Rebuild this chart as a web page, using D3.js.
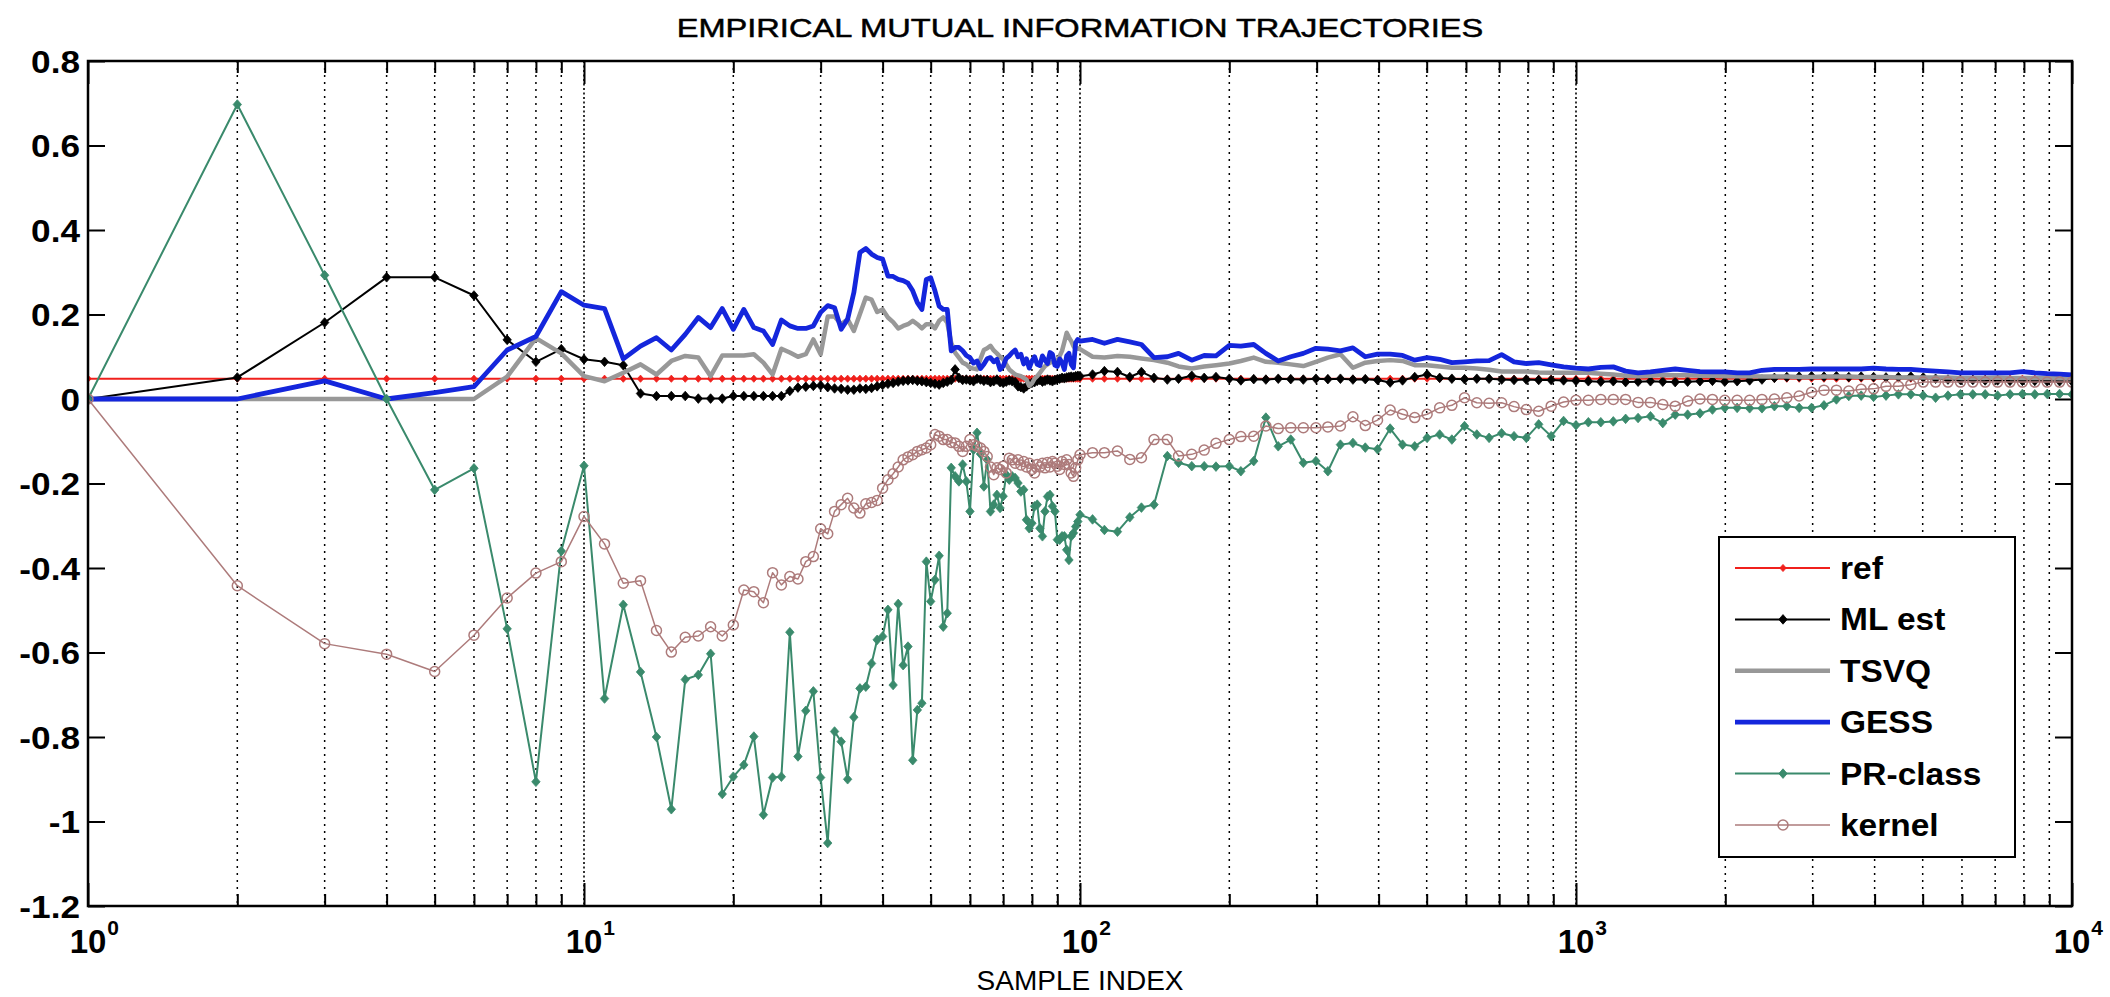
<!DOCTYPE html>
<html>
<head>
<meta charset="utf-8">
<script src="https://cdn.jsdelivr.net/npm/d3@7"></script>
<style>
  html, body { margin: 0; padding: 0; background: #ffffff; }
  svg { display: block; }
  text { font-family: "Liberation Sans", Arial, Helvetica, sans-serif; fill: #000; }
</style>
</head>
<body>
<svg id="chart" width="2110" height="997"></svg>
<script>
// Sample indices: every sample up to 100, then 40 log-spaced samples per decade.
const sampleIndex = [
  1,2,3,4,5,6,7,8,9,10,11,12,13,14,15,16,17,18,19,20,
  21,22,23,24,25,26,27,28,29,30,31,32,33,34,35,36,37,38,39,40,
  41,42,43,44,45,46,47,48,49,50,51,52,53,54,55,56,57,58,59,60,
  61,62,63,64,65,66,67,68,69,70,71,72,73,74,75,76,77,78,79,80,
  81,82,83,84,85,86,87,88,89,90,91,92,93,94,95,96,97,98,99,100,
  106,112,119,126,133,141,150,158,168,178,
  188,200,211,224,237,251,266,282,299,316,
  335,355,376,398,422,447,473,501,531,562,
  596,631,668,708,750,794,841,891,944,1000,
  1059,1122,1189,1259,1334,1413,1496,1585,1679,1778,
  1884,1995,2113,2239,2371,2512,2661,2818,2985,3162,
  3350,3548,3758,3981,4217,4467,4732,5012,5309,5623,
  5957,6310,6683,7079,7499,7943,8414,8913,9441,10000
];

const refValues = [
  0.048,0.048,0.048,0.048,0.048,0.048,0.048,0.048,0.048,0.048,
  0.048,0.048,0.048,0.048,0.048,0.048,0.048,0.048,0.048,0.048,
  0.048,0.048,0.048,0.048,0.048,0.048,0.048,0.048,0.048,0.048,
  0.048,0.048,0.048,0.048,0.048,0.048,0.048,0.048,0.048,0.048,
  0.048,0.048,0.048,0.048,0.048,0.048,0.048,0.048,0.048,0.048,
  0.048,0.048,0.048,0.048,0.048,0.048,0.048,0.048,0.048,0.048,
  0.048,0.048,0.048,0.048,0.048,0.048,0.048,0.048,0.048,0.048,
  0.048,0.048,0.048,0.048,0.048,0.048,0.048,0.048,0.048,0.048,
  0.048,0.048,0.048,0.048,0.048,0.048,0.048,0.048,0.048,0.048,
  0.048,0.048,0.048,0.048,0.048,0.048,0.048,0.048,0.048,0.048,
  0.048,0.048,0.048,0.048,0.048,0.048,0.048,0.048,0.048,0.048,
  0.048,0.048,0.048,0.048,0.048,0.048,0.048,0.048,0.048,0.048,
  0.048,0.048,0.048,0.048,0.048,0.048,0.048,0.048,0.048,0.048,
  0.048,0.048,0.048,0.048,0.048,0.048,0.048,0.048,0.048,0.048,
  0.048,0.048,0.048,0.048,0.048,0.048,0.048,0.048,0.048,0.048,
  0.048,0.048,0.048,0.048,0.048,0.048,0.048,0.048,0.048,0.048,
  0.048,0.048,0.048,0.048,0.048,0.048,0.048,0.048,0.048,0.048,
  0.048,0.048,0.048,0.048,0.048,0.048,0.048,0.048,0.048,0.048
];

const mlEst = [
  0,0.051,0.181,0.288,0.288,0.245,0.14,0.088,0.118,0.094,
  0.088,0.08,0.013,0.007,0.007,0.007,0.001,0.001,0.001,0.007,
  0.007,0.007,0.007,0.007,0.007,0.019,0.027,0.029,0.031,0.032,
  0.028,0.025,0.024,0.022,0.022,0.025,0.024,0.026,0.03,0.033,
  0.036,0.038,0.041,0.043,0.044,0.045,0.043,0.042,0.04,0.038,
  0.036,0.034,0.038,0.041,0.045,0.07,0.05,0.045,0.046,0.044,
  0.042,0.048,0.046,0.043,0.045,0.04,0.042,0.046,0.04,0.038,
  0.041,0.044,0.042,0.04,0.03,0.028,0.025,0.03,0.035,0.038,
  0.04,0.043,0.045,0.041,0.043,0.046,0.044,0.042,0.045,0.047,
  0.048,0.05,0.049,0.051,0.052,0.053,0.052,0.054,0.055,0.054,
  0.058,0.066,0.064,0.052,0.064,0.05,0.046,0.048,0.055,0.05,
  0.052,0.048,0.044,0.047,0.046,0.048,0.047,0.046,0.048,0.047,
  0.048,0.046,0.047,0.045,0.039,0.044,0.052,0.058,0.05,0.048,
  0.047,0.048,0.048,0.046,0.045,0.046,0.045,0.045,0.044,0.043,
  0.042,0.041,0.042,0.04,0.041,0.042,0.041,0.04,0.041,0.042,
  0.043,0.041,0.042,0.044,0.046,0.05,0.052,0.053,0.054,0.053,
  0.054,0.052,0.053,0.052,0.051,0.052,0.053,0.051,0.048,0.046,
  0.045,0.045,0.044,0.044,0.043,0.043,0.043,0.042,0.042,0.042
];

const tsvq = [
  0,0,0,0,0,0,0.053,0.144,0.108,0.054,
  0.042,0.062,0.082,0.058,0.09,0.102,0.098,0.054,0.103,0.103,
  0.103,0.106,0.086,0.058,0.119,0.11,0.1,0.106,0.141,0.106,
  0.195,0.195,0.177,0.189,0.161,0.201,0.24,0.235,0.206,0.212,
  0.193,0.182,0.167,0.173,0.177,0.185,0.177,0.167,0.177,0.177,
  0.167,0.185,0.193,0.181,0.133,0.11,0.098,0.086,0.082,0.074,
  0.072,0.07,0.095,0.116,0.12,0.126,0.115,0.108,0.1,0.094,
  0.082,0.07,0.064,0.058,0.056,0.054,0.05,0.046,0.031,0.037,
  0.048,0.054,0.062,0.07,0.078,0.082,0.086,0.088,0.09,0.09,
  0.102,0.114,0.135,0.157,0.146,0.137,0.125,0.118,0.12,0.118,
  0.1,0.098,0.102,0.1,0.096,0.092,0.086,0.077,0.072,0.077,
  0.08,0.084,0.09,0.098,0.088,0.086,0.082,0.078,0.088,0.098,
  0.106,0.074,0.086,0.09,0.092,0.09,0.08,0.08,0.077,0.074,
  0.074,0.072,0.069,0.065,0.065,0.065,0.063,0.062,0.062,0.062,
  0.062,0.06,0.058,0.055,0.054,0.055,0.057,0.056,0.056,0.055,
  0.055,0.054,0.054,0.054,0.053,0.053,0.053,0.052,0.052,0.053,
  0.053,0.053,0.052,0.052,0.052,0.051,0.051,0.051,0.051,0.051,
  0.05,0.05,0.05,0.051,0.05,0.05,0.05,0.05,0.049,0.049
];

const gess = [
  0,0,0.043,0,0.015,0.029,0.116,0.148,0.254,0.222,
  0.214,0.095,0.125,0.145,0.116,0.153,0.193,0.169,0.214,0.165,
  0.212,0.169,0.161,0.129,0.187,0.173,0.167,0.167,0.173,0.205,
  0.221,0.216,0.165,0.189,0.252,0.347,0.356,0.343,0.335,0.331,
  0.291,0.29,0.283,0.28,0.274,0.256,0.228,0.212,0.283,0.287,
  0.256,0.22,0.212,0.212,0.114,0.122,0.122,0.114,0.103,0.098,
  0.085,0.09,0.072,0.082,0.095,0.098,0.088,0.094,0.07,0.078,
  0.096,0.102,0.11,0.116,0.1,0.106,0.083,0.095,0.073,0.09,
  0.1,0.082,0.079,0.102,0.092,0.084,0.11,0.106,0.08,0.077,
  0.095,0.086,0.07,0.102,0.108,0.082,0.074,0.133,0.141,0.137,
  0.141,0.132,0.141,0.135,0.129,0.098,0.1,0.108,0.092,0.103,
  0.102,0.127,0.125,0.129,0.108,0.09,0.1,0.108,0.12,0.118,
  0.114,0.121,0.1,0.106,0.106,0.103,0.092,0.098,0.094,0.086,
  0.088,0.09,0.091,0.105,0.088,0.084,0.086,0.081,0.076,0.073,
  0.071,0.075,0.076,0.066,0.062,0.064,0.068,0.071,0.068,0.065,
  0.064,0.064,0.062,0.062,0.068,0.07,0.07,0.07,0.071,0.071,
  0.071,0.071,0.071,0.073,0.071,0.07,0.07,0.068,0.066,0.064,
  0.062,0.062,0.062,0.062,0.062,0.065,0.062,0.06,0.059,0.057
];

const prClass = [
  0,0.697,0.293,0,-0.215,-0.164,-0.544,-0.906,-0.36,-0.158,
  -0.709,-0.487,-0.646,-0.8,-0.971,-0.664,-0.653,-0.603,-0.935,-0.894,
  -0.866,-0.799,-0.984,-0.896,-0.894,-0.552,-0.846,-0.738,-0.692,-0.896,
  -1.051,-0.787,-0.811,-0.9,-0.753,-0.685,-0.681,-0.626,-0.57,-0.562,
  -0.499,-0.677,-0.485,-0.63,-0.586,-0.855,-0.736,-0.72,-0.385,-0.479,
  -0.428,-0.371,-0.539,-0.507,-0.163,-0.183,-0.195,-0.155,-0.195,-0.266,
  -0.12,-0.08,-0.13,-0.207,-0.144,-0.266,-0.25,-0.227,-0.258,-0.23,
  -0.179,-0.191,-0.183,-0.187,-0.199,-0.219,-0.215,-0.286,-0.306,-0.294,
  -0.254,-0.25,-0.306,-0.325,-0.266,-0.231,-0.227,-0.254,-0.266,-0.333,
  -0.333,-0.325,-0.325,-0.357,-0.381,-0.325,-0.317,-0.302,-0.29,-0.274,
  -0.285,-0.31,-0.314,-0.28,-0.257,-0.25,-0.135,-0.151,-0.159,-0.159,
  -0.16,-0.159,-0.171,-0.147,-0.044,-0.112,-0.096,-0.151,-0.147,-0.171,
  -0.108,-0.104,-0.115,-0.119,-0.07,-0.108,-0.112,-0.092,-0.084,-0.096,
  -0.064,-0.084,-0.092,-0.081,-0.088,-0.092,-0.06,-0.088,-0.052,-0.062,
  -0.055,-0.055,-0.053,-0.047,-0.045,-0.041,-0.057,-0.037,-0.037,-0.034,
  -0.025,-0.021,-0.021,-0.022,-0.022,-0.017,-0.017,-0.021,-0.021,-0.015,
  -0.001,0.007,0.008,0.005,0.008,0.011,0.011,0.008,0.003,0.008,
  0.011,0.011,0.011,0.008,0.011,0.012,0.011,0.012,0.012,0.011
];

const kernel = [
  0,-0.442,-0.579,-0.604,-0.645,-0.559,-0.471,-0.412,-0.385,-0.278,
  -0.343,-0.436,-0.43,-0.548,-0.599,-0.564,-0.561,-0.539,-0.561,-0.535,
  -0.452,-0.456,-0.482,-0.411,-0.44,-0.42,-0.426,-0.385,-0.373,-0.307,
  -0.319,-0.266,-0.25,-0.235,-0.258,-0.27,-0.248,-0.245,-0.24,-0.211,
  -0.191,-0.177,-0.161,-0.144,-0.137,-0.132,-0.124,-0.12,-0.116,-0.108,
  -0.084,-0.088,-0.096,-0.096,-0.103,-0.104,-0.112,-0.124,-0.112,-0.096,
  -0.108,-0.112,-0.116,-0.124,-0.136,-0.161,-0.179,-0.163,-0.167,-0.159,
  -0.175,-0.14,-0.144,-0.152,-0.144,-0.156,-0.148,-0.161,-0.152,-0.167,
  -0.175,-0.155,-0.161,-0.152,-0.163,-0.15,-0.161,-0.148,-0.152,-0.159,
  -0.167,-0.148,-0.155,-0.144,-0.155,-0.175,-0.183,-0.163,-0.144,-0.132,
  -0.127,-0.127,-0.123,-0.143,-0.139,-0.096,-0.096,-0.135,-0.131,-0.121,
  -0.105,-0.096,-0.089,-0.088,-0.064,-0.07,-0.068,-0.068,-0.068,-0.066,
  -0.064,-0.042,-0.063,-0.05,-0.026,-0.036,-0.044,-0.036,-0.021,-0.015,
  0.003,-0.009,-0.01,-0.009,-0.018,-0.025,-0.029,-0.017,-0.007,-0.003,
  -0.003,-0.001,-0.001,-0.001,-0.008,-0.008,-0.013,-0.017,-0.005,0,
  -0.001,-0.003,-0.003,-0.003,-0.001,0,0.003,0.007,0.016,0.021,
  0.021,0.019,0.023,0.024,0.03,0.03,0.034,0.04,0.04,0.04,
  0.04,0.04,0.04,0.04,0.04,0.04,0.04,0.04,0.04,0.04
];

const seriesNames = ["ref", "ML est", "TSVQ", "GESS", "PR-class", "kernel"];
const yTicks = [-1.2, -1, -0.8, -0.6, -0.4, -0.2, 0, 0.2, 0.4, 0.6, 0.8];
const yTickLabels = ["-1.2", "-1", "-0.8", "-0.6", "-0.4", "-0.2", "0", "0.2", "0.4", "0.6", "0.8"];
const xDecades = [1, 10, 100, 1000, 10000];
const xExponents = ["0", "1", "2", "3", "4"];
const titleText = "EMPIRICAL MUTUAL INFORMATION TRAJECTORIES";
const xLabelText = "SAMPLE INDEX";

// ---- layout ----
const plot = { left: 88, right: 2072, top: 61, bottom: 906 };
const svg = d3.select("#chart");

const x = d3.scaleLog().domain([1, 10000]).range([plot.left, plot.right]);
const y = d3.scaleLinear().domain([-1.2, 0.8]).range([plot.bottom, plot.top]);

// Text with an optional horizontal stretch.
function stretchText(parent, px, py, str, o) {
  const t = parent.append("text")
    .attr("transform", `translate(${px},${py}) scale(${o.sx},1)`)
    .attr("text-anchor", o.anchor || "start")
    .style("font-size", o.size + "px")
    .style("font-weight", o.weight || "normal")
    .text(str);
  if (o.stroke) t.attr("stroke", "#000").attr("stroke-width", o.stroke);
  return t;
}

// ---- vertical dotted grid ----
const allXTicks = x.ticks();
const isDecade = v => Math.abs(Math.log10(v) - Math.round(Math.log10(v))) < 1e-9;
svg.append("g").selectAll("line")
  .data(allXTicks.filter(v => v > 1 && v < 10000))
  .join("line")
  .attr("x1", d => x(d)).attr("x2", d => x(d))
  .attr("y1", plot.top).attr("y2", plot.bottom)
  .attr("stroke", "#000")
  .attr("stroke-width", d => isDecade(d) ? 1.6 : 1.5)
  .attr("stroke-dasharray", d => isDecade(d) ? "2,2.5" : "2,5");

// ---- axis ticks (inward, on all four sides) ----
const majorX = allXTicks.filter(isDecade);
const minorX = allXTicks.filter(v => !isDecade(v));
function styleAxis(g) {
  g.select(".domain").remove();
  g.selectAll("line").attr("stroke", "#000").attr("stroke-width", 2);
  g.selectAll("text").remove();
}
svg.append("g").attr("transform", `translate(0,${plot.bottom})`)
  .call(d3.axisBottom(x).tickValues(majorX).tickSize(-23).tickFormat("")).call(styleAxis);
svg.append("g").attr("transform", `translate(0,${plot.bottom})`)
  .call(d3.axisBottom(x).tickValues(minorX).tickSize(-12).tickFormat("")).call(styleAxis);
svg.append("g").attr("transform", `translate(0,${plot.top})`)
  .call(d3.axisTop(x).tickValues(majorX).tickSize(-23).tickFormat("")).call(styleAxis);
svg.append("g").attr("transform", `translate(0,${plot.top})`)
  .call(d3.axisTop(x).tickValues(minorX).tickSize(-12).tickFormat("")).call(styleAxis);
svg.append("g").attr("transform", `translate(${plot.left},0)`)
  .call(d3.axisLeft(y).tickValues(yTicks).tickSize(-17).tickFormat("")).call(styleAxis);
svg.append("g").attr("transform", `translate(${plot.right},0)`)
  .call(d3.axisRight(y).tickValues(yTicks).tickSize(-17).tickFormat("")).call(styleAxis);

// ---- series ----
const series = [
  { name: seriesNames[0], values: refValues, color: "#f0201c", width: 2,   marker: "diamond", mw: 3.2, mh: 3.6 },
  { name: seriesNames[1], values: mlEst,     color: "#000000", width: 2,   marker: "diamond", mw: 4.2, mh: 4.8 },
  { name: seriesNames[2], values: tsvq,      color: "#989898", width: 4.5, marker: null },
  { name: seriesNames[3], values: gess,      color: "#1426dc", width: 4.8, marker: null },
  { name: seriesNames[4], values: prClass,   color: "#3a8a6c", width: 2,   marker: "diamond", mw: 4.2, mh: 4.8 },
  { name: seriesNames[5], values: kernel,    color: "#ad7b7b", width: 1.5, marker: "circle", r: 5 }
];

const line = d3.line().x(d => x(d[0])).y(d => y(d[1]));
const diamond = (w, h) => `M0,${-h}L${w},0L0,${h}L${-w},0Z`;

svg.append("clipPath").attr("id", "plotClip")
  .append("rect").attr("x", plot.left).attr("y", plot.top)
  .attr("width", plot.right - plot.left).attr("height", plot.bottom - plot.top);

const layer = svg.append("g").attr("clip-path", "url(#plotClip)");
series.forEach(s => {
  const pts = sampleIndex.map((n, i) => [n, s.values[i]]);
  const g = layer.append("g");
  g.append("path").datum(pts)
    .attr("d", line)
    .attr("fill", "none")
    .attr("stroke", s.color)
    .attr("stroke-width", s.width)
    .attr("stroke-linejoin", "round");
  if (s.marker === "diamond") {
    g.selectAll("path.mk").data(pts).join("path").attr("class", "mk")
      .attr("transform", d => `translate(${x(d[0])},${y(d[1])})`)
      .attr("d", diamond(s.mw, s.mh))
      .attr("fill", s.color).attr("stroke", s.color).attr("stroke-width", 0.8);
  } else if (s.marker === "circle") {
    g.selectAll("circle").data(pts).join("circle")
      .attr("cx", d => x(d[0])).attr("cy", d => y(d[1])).attr("r", s.r)
      .attr("fill", "none").attr("stroke", s.color).attr("stroke-width", 1.5);
  }
});

// ---- frame ----
svg.append("rect")
  .attr("x", plot.left).attr("y", plot.top)
  .attr("width", plot.right - plot.left).attr("height", plot.bottom - plot.top)
  .attr("fill", "none").attr("stroke", "#000").attr("stroke-width", 2.5);

// ---- tick labels ----
const labels = svg.append("g");
yTicks.forEach((v, i) => {
  stretchText(labels, 80, y(v) + 11.5, yTickLabels[i], { sx: 1.1, size: 32, weight: "bold", anchor: "end" });
});
xDecades.forEach((v, i) => {
  const base = stretchText(labels, x(v), 953, "10", { sx: 1.0, size: 33, weight: "bold", anchor: "middle" });
  const half = base.node().getComputedTextLength() / 2;
  stretchText(labels, x(v) + half + 1, 935, xExponents[i], { sx: 1.0, size: 21, weight: "bold", anchor: "start" });
});

// ---- title and axis label ----
stretchText(svg, (plot.left + plot.right) / 2, 37, titleText, { sx: 1.23, size: 26.5, weight: "normal", anchor: "middle", stroke: 0.5 });
stretchText(svg, (plot.left + plot.right) / 2, 990, xLabelText, { sx: 1.0, size: 28, weight: "normal", anchor: "middle" });

// ---- legend ----
const legend = { x: 1719, y: 537, w: 296, h: 320, rowY0: 568, rowStep: 51.4 };
const lg = svg.append("g");
lg.append("rect")
  .attr("x", legend.x).attr("y", legend.y).attr("width", legend.w).attr("height", legend.h)
  .attr("fill", "#fff").attr("stroke", "#000").attr("stroke-width", 2);
series.forEach((s, i) => {
  const ry = legend.rowY0 + i * legend.rowStep;
  lg.append("line")
    .attr("x1", legend.x + 16).attr("x2", legend.x + 111)
    .attr("y1", ry).attr("y2", ry)
    .attr("stroke", s.color).attr("stroke-width", s.width);
  const mx = legend.x + 64;
  if (s.marker === "diamond") {
    lg.append("path").attr("transform", `translate(${mx},${ry})`)
      .attr("d", diamond(s.mw, s.mh)).attr("fill", s.color).attr("stroke", s.color).attr("stroke-width", 0.8);
  } else if (s.marker === "circle") {
    lg.append("circle").attr("cx", mx).attr("cy", ry).attr("r", s.r)
      .attr("fill", "none").attr("stroke", s.color).attr("stroke-width", 1.5);
  }
  stretchText(lg, legend.x + 121, ry + 11, s.name, { sx: 1.08, size: 31, weight: "bold", anchor: "start" });
});
</script>
</body>
</html>
